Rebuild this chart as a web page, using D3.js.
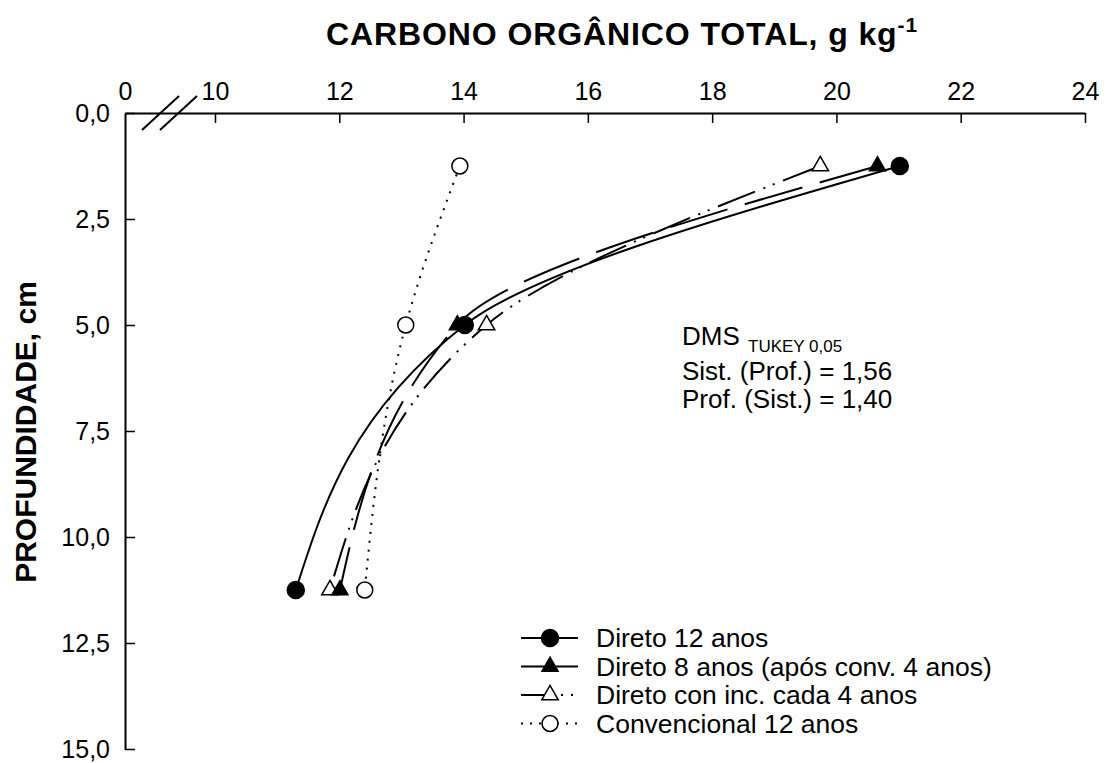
<!DOCTYPE html>
<html>
<head>
<meta charset="utf-8">
<script src="https://cdn.jsdelivr.net/npm/d3@7"></script>
<style>
  body { margin: 0; background: #fff; }
  text { font-family: "Liberation Sans", Arial, sans-serif; }
</style>
</head>
<body>
<script>
'use strict'

var width = 1108
var height = 763

// profundidade (cm) das camadas amostradas
var depths = [1.25, 5.0, 11.25]

// carbono organico total, g kg-1
var direto12 = [21.02, 14.02, 11.30]
var direto8 = [20.66, 13.90, 12.01]
var diretoInc = [19.74, 14.37, 11.85]
var convencional = [13.94, 13.07, 12.41]

var seriesNames = [
  "Direto 12 anos",
  "Direto 8 anos (após conv. 4 anos)",
  "Direto con inc. cada 4 anos",
  "Convencional 12 anos"
]

var xTicks = [0, 10, 12, 14, 16, 18, 20, 22, 24]
var yTicks = [0, 2.5, 5, 7.5, 10, 12.5, 15]

var dmsLines = ["Sist. (Prof.) = 1,56", "Prof. (Sist.) = 1,40"]

// broken axis: 0 sits at the corner, the rest runs 10..24
var x = d3.scaleLinear().domain([0, 10, 24]).range([125, 215, 1085])
var y = d3.scaleLinear().domain([0, 15]).range([113, 749])

var comma = function (d) { return d3.format(".1f")(d).replace(".", ",") }

var styles = [
  { dash: null, legendDash: null, symbol: d3.symbolCircle, size: 227, fill: "#000" },
  { dash: "60,18", legendDash: null, symbol: d3.symbolTriangle, size: 112, fill: "#000" },
  { dash: "40,9,2,8,2,9", legendDash: "24,16,2,8,2,40", symbol: d3.symbolTriangle, size: 118, fill: "#fff" },
  { dash: "2,7", legendDash: "2,7", symbol: d3.symbolCircle, size: 200, fill: "#fff" }
]

var svg

window.onload = function () {
  svg = d3.select("body")
    .append("svg")
    .attr("width", width)
    .attr("height", height)
  drawAxes()
  drawSeries()
  drawLegend()
  drawNotes()
}

function drawAxes() {
  var xAxis = svg.append("g")
    .attr("transform", "translate(0," + y(0) + ")")
    .call(d3.axisTop(x).tickValues(xTicks).tickSizeInner(-10).tickSizeOuter(0).tickPadding(13).tickFormat(d3.format("d")))
  var yAxis = svg.append("g")
    .attr("transform", "translate(" + x(0) + ",0)")
    .call(d3.axisLeft(y).tickValues(yTicks).tickSizeInner(-10).tickSizeOuter(0).tickPadding(15).tickFormat(comma))

  ;[xAxis, yAxis].forEach(function (g) {
    g.attr("font-family", null).attr("font-size", null)
    g.select(".domain").attr("stroke-width", 2)
    g.selectAll(".tick line").attr("stroke-width", 1.5)
    g.selectAll("text").attr("font-size", 25).attr("fill", "#000")
  })
  xAxis.selectAll(".tick").filter(function (d) { return d === 0 }).select("line").remove()

  // break marks on the top axis
  var brk = svg.append("g").attr("stroke", "#000").attr("stroke-width", 2)
  ;[142, 160].forEach(function (x0) {
    brk.append("line")
      .attr("x1", x0).attr("y1", y(0) + 17)
      .attr("x2", x0 + 37).attr("y2", y(0) - 17)
  })

  var title = svg.append("text")
    .attr("x", 326)
    .attr("y", 45)
    .attr("font-size", 32)
    .attr("letter-spacing", 0.9)
    .attr("font-weight", "bold")
  title.append("tspan").text("CARBONO ORGÂNICO TOTAL, g kg")
  title.append("tspan").attr("font-size", 21).attr("dy", -13).text("-1")

  svg.append("text")
    .attr("transform", "translate(36,432) rotate(-90)")
    .attr("text-anchor", "middle")
    .attr("font-size", 30)
    .attr("font-weight", "bold")
    .text("PROFUNDIDADE, cm")
}

function drawSeries() {
  var allSeries = [direto12, direto8, diretoInc, convencional]
  var line = d3.line()
    .x(function (d) { return x(d[0]) })
    .y(function (d) { return y(d[1]) })
    .curve(d3.curveMonotoneY)

  var lines = svg.append("g")
  var marks = svg.append("g")
  // draw back to front so the filled symbols end up on top
  for (var i = allSeries.length - 1; i >= 0; i--) {
    var pts = allSeries[i].map(function (v, j) { return [v, depths[j]] })
    lines.append("path")
      .attr("d", line(pts))
      .attr("fill", "none")
      .attr("stroke", "#000")
      .attr("stroke-width", 2)
      .attr("stroke-dasharray", styles[i].dash)
  }
  for (var k = allSeries.length - 1; k >= 0; k--) {
    var st = styles[k]
    marks.selectAll(null)
      .data(allSeries[k])
      .enter()
      .append("path")
      .attr("transform", function (d, j) { return "translate(" + x(d) + "," + y(depths[j]) + ")" })
      .attr("d", d3.symbol().type(st.symbol).size(st.size))
      .attr("fill", st.fill)
      .attr("stroke", "#000")
      .attr("stroke-width", 1.5)
  }
}

function drawLegend() {
  var legend = svg.append("g")
  var rows = legend.selectAll("g")
    .data(seriesNames)
    .enter()
    .append("g")
    .attr("transform", function (d, i) { return "translate(0," + (638 + i * 28.5) + ")" })
  rows.append("line")
    .attr("x1", 521).attr("x2", 578)
    .attr("stroke", "#000")
    .attr("stroke-width", 2)
    .attr("stroke-dasharray", function (d, i) { return styles[i].legendDash })
  rows.append("path")
    .attr("transform", "translate(550,0)")
    .attr("d", function (d, i) { return d3.symbol().type(styles[i].symbol).size(styles[i].size)() })
    .attr("fill", function (d, i) { return styles[i].fill })
    .attr("stroke", "#000")
    .attr("stroke-width", 1.5)
  rows.append("text")
    .attr("x", 596)
    .attr("y", 9)
    .attr("font-size", 26.5)
    .text(function (d) { return d })
}

function drawNotes() {
  svg.append("text").attr("x", 682).attr("y", 345).attr("font-size", 26).text("DMS")
  svg.append("text").attr("x", 748).attr("y", 352).attr("font-size", 17).text("TUKEY 0,05")
  svg.selectAll(".dms")
    .data(dmsLines)
    .enter()
    .append("text")
    .attr("class", "dms")
    .attr("x", 682)
    .attr("y", function (d, i) { return 380 + i * 28 })
    .attr("font-size", 26)
    .text(function (d) { return d })
}
</script>
</body>
</html>
